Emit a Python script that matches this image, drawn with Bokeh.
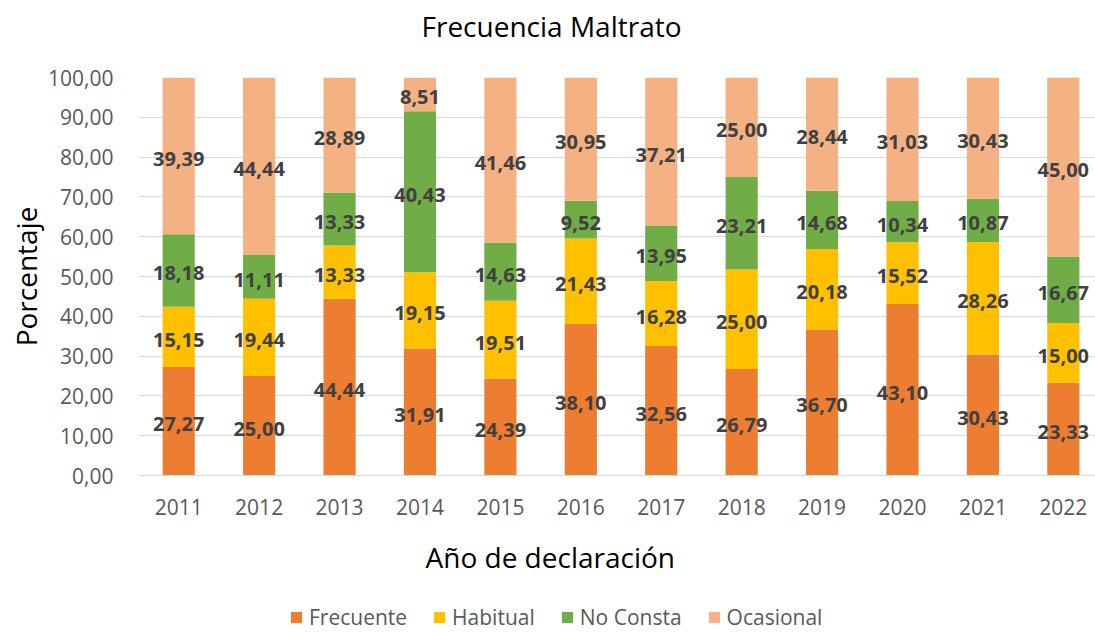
from bokeh.plotting import figure
from bokeh.layouts import column
from bokeh.models import (Range1d, FixedTicker, CustomJSTickFormatter, Legend, LegendItem,
                          Title, Label, ColumnDataSource)
from bokeh.core.properties import value
from bokeh.embed import file_html
from bokeh.resources import INLINE

years = [2011, 2012, 2013, 2014, 2015, 2016, 2017, 2018, 2019, 2020, 2021, 2022]
series_names = ["Frecuente", "Habitual", "No Consta", "Ocasional"]
frecuente = [27.27, 25.00, 44.44, 31.91, 24.39, 38.10, 32.56, 26.79, 36.70, 43.10, 30.43, 23.33]
habitual = [15.15, 19.44, 13.33, 19.15, 19.51, 21.43, 16.28, 25.00, 20.18, 15.52, 28.26, 15.00]
no_consta = [18.18, 11.11, 13.33, 40.43, 14.63, 9.52, 13.95, 23.21, 14.68, 10.34, 10.87, 16.67]
ocasional = [39.39, 44.44, 28.89, 8.51, 41.46, 30.95, 37.21, 25.00, 28.44, 31.03, 30.43, 45.00]
y_ticks = [0, 10, 20, 30, 40, 50, 60, 70, 80, 90, 100]

colors = ["#ED7D31", "#FFC000", "#70AD47", "#F4B183"]
FONT = "Open Sans"

keys = ["f", "h", "n", "o"]
data = dict(x=years, f=frecuente, h=habitual, n=no_consta, o=ocasional)
src = ColumnDataSource(data)

# ---- title strip ----
tf = figure(width=1095, height=62, output_backend="svg", toolbar_location=None, title=None,
            x_axis_type=None, y_axis_type=None, x_range=Range1d(0, 1), y_range=Range1d(0, 1),
            min_border_left=0, min_border_right=0, min_border_top=0, min_border_bottom=0)
tf.outline_line_color = None
tf.add_layout(Label(x=413, y=37, x_units="screen", y_units="screen", text="Frecuencia Maltrato",
                    text_font=FONT, text_font_size="28px", text_color="#000000",
                    text_align="center", text_baseline="middle"))

# ---- main chart ----
p = figure(width=1095, height=531, output_backend="svg", toolbar_location=None, title=None,
           x_range=Range1d(2010.5, 2022.4), y_range=Range1d(0, 100),
           min_border_left=138, min_border_right=0, min_border_top=15, min_border_bottom=116)

p.vbar_stack(keys, x="x", width=0.4, color=colors, source=src, line_color=None)

# labels centred in each segment
base = [0.0] * len(years)
for vals in [frecuente, habitual, no_consta, ocasional]:
    centers = [b + v / 2 for b, v in zip(base, vals)]
    txt = [f"{v:.2f}".replace(".", ",") for v in vals]
    p.text(x=years, y=centers, text=txt, text_align="center", text_baseline="middle",
           y_offset=3, text_font=value(FONT), text_font_size="20px", text_font_style="bold",
           text_color="#404040")
    base = [b + v for b, v in zip(base, vals)]

p.outline_line_color = None
p.xgrid.grid_line_color = None
p.ygrid.grid_line_color = "#D9D9D9"
p.ygrid.grid_line_width = 1

p.yaxis.ticker = FixedTicker(ticks=y_ticks)
p.yaxis.formatter = CustomJSTickFormatter(code="return tick.toFixed(2).replace('.', ',');")
p.xaxis.ticker = FixedTicker(ticks=years)
p.xaxis.formatter = CustomJSTickFormatter(code="return tick.toFixed(0);")

for ax in [p.xaxis[0], p.yaxis[0]]:
    ax.major_tick_line_color = None
    ax.minor_tick_line_color = None
    ax.major_label_text_font = FONT
    ax.major_label_text_font_size = "21px"
    ax.major_label_text_color = "#595959"
p.yaxis.axis_line_color = None
p.xaxis.axis_line_color = "#D9D9D9"
p.yaxis.major_label_standoff = 19
p.xaxis.major_label_standoff = 17

p.yaxis.axis_label = "Porcentaje"
p.yaxis.axis_label_text_font = FONT
p.yaxis.axis_label_text_font_size = "28px"
p.yaxis.axis_label_text_font_style = "normal"
p.yaxis.axis_label_text_color = "#000000"
p.yaxis.axis_label_standoff = 0

xlab = Title(text="Año de declaración", text_font=FONT, text_font_size="28px",
             text_font_style="normal", text_color="#000000", align="left", offset=287,
             standoff=36)
p.add_layout(xlab, "below")

# ---- legend strip (one hidden bar per series, outside the strip's range) ----
lf = figure(width=1095, height=40, output_backend="svg", toolbar_location=None, title=None,
            x_axis_type=None, y_axis_type=None, x_range=Range1d(0, 1), y_range=Range1d(0, 1),
            min_border_left=0, min_border_right=0, min_border_top=0, min_border_bottom=0)
lf.outline_line_color = None
leg_renderers = [lf.vbar(x=[years[0]], top=[vals[0]], width=0.4, color=c, line_color=None)
                 for c, vals in zip(colors, [frecuente, habitual, no_consta, ocasional])]
items = [LegendItem(label=n, renderers=[r]) for n, r in zip(series_names, leg_renderers)]
legend = Legend(items=items, orientation="horizontal", location=(151, 2),
                label_text_font=FONT, label_text_font_size="21px", label_text_color="#595959",
                glyph_width=14, glyph_height=14, label_standoff=6, spacing=25,
                border_line_color=None, background_fill_alpha=0, padding=0, margin=0)
lf.add_layout(legend, "center")

layout = column(tf, p, lf, spacing=0)
open("out.html", "w").write(file_html(layout, INLINE))
